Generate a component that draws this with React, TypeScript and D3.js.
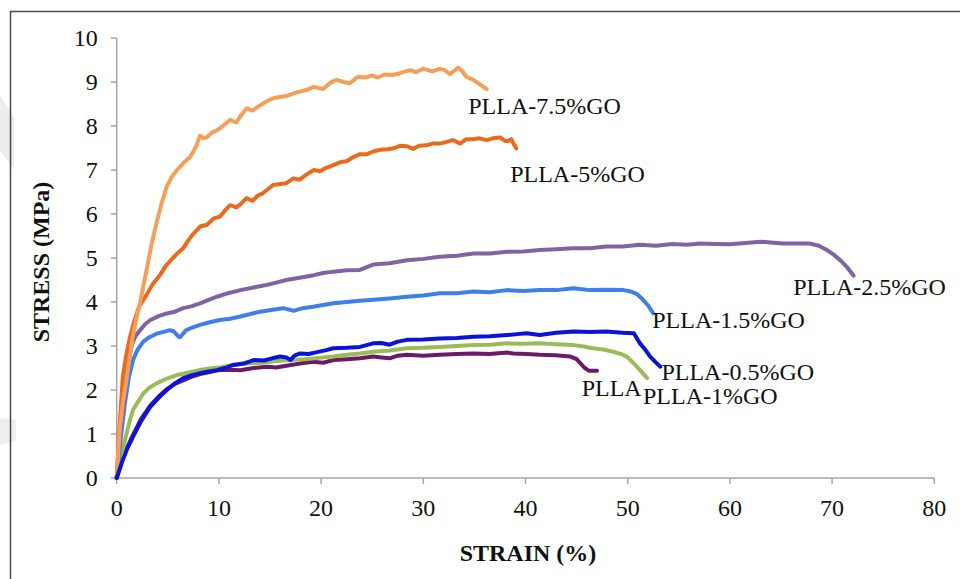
import React from "react";
import * as d3 from "d3";

type P = [number, number];

const xTicks = [0, 10, 20, 30, 40, 50, 60, 70, 80];
const yTicks = [0, 1, 2, 3, 4, 5, 6, 7, 8, 9, 10];

const s75: P[] = [[0,0],[0.3,1.1],[0.6,1.7],[1.0,2.3],[1.3,2.8],[1.6,3.25],[2.0,3.7],[2.3,4.0],[2.9,4.7],[3.4,5.3],[3.9,5.8],[4.4,6.25],[4.9,6.62],[5.4,6.85],[5.9,7.0],[6.5,7.15],[7.2,7.3],[7.5,7.42],[7.8,7.55],[8.15,7.78],[8.5,7.72],[8.8,7.74],[9.3,7.85],[9.8,7.9],[10.5,8.02],[11.1,8.14],[11.7,8.08],[12.2,8.25],[12.7,8.4],[13.3,8.35],[13.9,8.45],[14.6,8.55],[15.3,8.63],[16.0,8.66],[16.6,8.68],[17.3,8.74],[17.9,8.78],[18.6,8.82],[19.3,8.89],[20.2,8.84],[20.9,8.98],[21.5,9.05],[22.2,9.0],[22.8,8.97],[23.6,9.12],[24.3,9.1],[25.0,9.15],[25.5,9.1],[26.2,9.17],[27.0,9.16],[27.7,9.2],[28.7,9.27],[29.3,9.22],[30.0,9.3],[30.9,9.24],[31.6,9.3],[32.1,9.27],[32.6,9.18],[33.0,9.25],[33.4,9.33],[33.8,9.25],[34.2,9.12],[34.9,9.05],[35.5,8.95],[36.2,8.84]];

const s5: P[] = [[0,0],[0.2,0.9],[0.4,1.6],[0.6,2.3],[0.9,2.75],[1.3,3.2],[1.7,3.55],[2.2,3.9],[2.9,4.15],[3.5,4.4],[4.2,4.6],[4.8,4.82],[5.5,5.0],[6.0,5.12],[6.5,5.22],[7.0,5.4],[7.5,5.55],[8.2,5.72],[8.8,5.75],[9.5,5.9],[10.1,5.94],[10.6,6.08],[11.1,6.2],[11.7,6.15],[12.1,6.22],[12.7,6.36],[13.3,6.3],[13.8,6.42],[14.3,6.47],[15.3,6.66],[16.0,6.68],[16.6,6.7],[17.3,6.81],[17.9,6.78],[18.6,6.9],[19.3,7.0],[19.9,6.97],[20.5,7.05],[21.2,7.11],[21.9,7.18],[22.5,7.2],[23.2,7.3],[23.8,7.36],[24.5,7.36],[25.1,7.42],[25.8,7.46],[26.5,7.47],[27.2,7.5],[27.7,7.55],[28.4,7.54],[29.0,7.48],[29.6,7.55],[30.3,7.56],[30.9,7.6],[31.6,7.6],[32.3,7.64],[32.9,7.68],[33.6,7.6],[34.2,7.7],[34.9,7.7],[35.5,7.72],[36.2,7.68],[36.8,7.72],[37.5,7.74],[38.0,7.66],[38.3,7.66],[38.6,7.7],[39.1,7.49]];

const s25: P[] = [[0,0],[0.3,0.9],[0.7,1.8],[1.1,2.6],[1.5,3.05],[1.9,3.25],[2.3,3.36],[2.8,3.5],[3.3,3.59],[4.1,3.68],[4.9,3.74],[5.7,3.78],[6.5,3.86],[7.3,3.9],[8.15,3.97],[9.0,4.05],[9.8,4.12],[10.9,4.2],[12.1,4.27],[13.4,4.33],[14.7,4.39],[15.6,4.44],[16.6,4.5],[17.9,4.55],[19.3,4.61],[20.2,4.66],[21.2,4.69],[22.5,4.72],[23.8,4.73],[25.1,4.85],[26.7,4.88],[28.4,4.95],[30.0,4.98],[31.6,5.03],[33.3,5.05],[34.9,5.1],[36.5,5.1],[38.2,5.14],[39.8,5.15],[41.4,5.18],[43.0,5.2],[44.6,5.22],[46.3,5.22],[47.9,5.26],[49.5,5.26],[51.2,5.3],[52.8,5.28],[54.4,5.32],[55.8,5.3],[57.1,5.33],[58.6,5.32],[60.0,5.31],[61.5,5.34],[63.0,5.37],[64.0,5.35],[65.2,5.33],[66.5,5.33],[67.8,5.33],[68.7,5.28],[69.5,5.18],[70.2,5.07],[70.8,4.95],[71.5,4.78],[72.1,4.6]];

const s15: P[] = [[0,0],[0.4,0.9],[0.8,1.7],[1.2,2.3],[1.6,2.68],[2.0,2.9],[2.6,3.1],[3.2,3.2],[3.9,3.28],[4.6,3.32],[5.2,3.36],[5.6,3.33],[6.0,3.22],[6.2,3.2],[6.5,3.28],[6.8,3.36],[7.4,3.42],[8.15,3.48],[9.1,3.54],[10.1,3.59],[11.1,3.62],[12.1,3.67],[13.0,3.72],[14.0,3.78],[15.1,3.82],[16.3,3.86],[17.3,3.8],[18.2,3.86],[19.2,3.89],[20.2,3.93],[21.2,3.97],[22.5,4.0],[23.8,4.03],[25.1,4.05],[26.7,4.08],[28.4,4.12],[30.0,4.15],[31.6,4.2],[33.3,4.2],[34.9,4.24],[36.5,4.22],[38.2,4.27],[39.8,4.25],[41.4,4.27],[43.0,4.27],[44.7,4.31],[46.3,4.27],[47.9,4.28],[49.6,4.27],[50.3,4.24],[50.9,4.18],[51.5,4.05],[52.0,3.92],[52.5,3.74]];

const s05: P[] = [[0,0],[0.5,0.35],[1.0,0.65],[1.6,0.94],[2.4,1.3],[3.3,1.62],[4.1,1.82],[4.9,2.0],[5.7,2.15],[6.5,2.27],[7.3,2.33],[8.15,2.38],[9.0,2.42],[9.8,2.45],[10.6,2.5],[11.4,2.57],[12.4,2.6],[13.4,2.68],[14.4,2.67],[15.2,2.72],[16.0,2.76],[16.6,2.74],[17.0,2.68],[17.4,2.78],[17.9,2.83],[18.8,2.82],[19.6,2.86],[20.4,2.9],[21.2,2.95],[22.5,2.96],[23.8,2.98],[25.1,3.06],[25.9,3.07],[26.7,3.03],[27.5,3.1],[28.4,3.14],[30.0,3.15],[31.6,3.17],[33.3,3.18],[34.9,3.21],[36.5,3.22],[38.2,3.25],[39.2,3.27],[40.1,3.29],[41.4,3.25],[43.0,3.3],[44.7,3.33],[46.3,3.32],[47.9,3.33],[49.5,3.3],[50.6,3.29],[51.2,3.06],[51.7,2.92],[52.2,2.76],[52.7,2.64],[53.2,2.53]];

const s1: P[] = [[0,0],[0.4,0.45],[0.9,0.95],[1.3,1.32],[1.6,1.55],[2.0,1.7],[2.6,1.92],[3.2,2.05],[3.9,2.15],[4.9,2.26],[5.9,2.34],[6.7,2.38],[7.5,2.42],[8.3,2.46],[9.1,2.49],[10.2,2.52],[11.4,2.57],[12.8,2.6],[14.2,2.62],[15.6,2.66],[17.0,2.68],[18.4,2.7],[19.8,2.73],[21.2,2.76],[22.5,2.8],[23.8,2.83],[25.1,2.87],[26.7,2.9],[28.4,2.95],[30.0,2.96],[31.6,2.98],[33.3,3.0],[34.9,3.02],[36.5,3.03],[38.2,3.06],[39.8,3.05],[41.4,3.06],[43.0,3.04],[44.7,3.02],[45.7,2.99],[46.6,2.95],[47.6,2.92],[48.6,2.87],[49.3,2.82],[49.9,2.76],[50.4,2.65],[50.9,2.53],[51.4,2.4],[51.9,2.27]];

const s0: P[] = [[0,0],[0.5,0.38],[1.0,0.68],[1.6,0.98],[2.4,1.35],[3.3,1.65],[4.1,1.85],[4.9,2.02],[5.7,2.14],[6.5,2.22],[7.3,2.3],[8.15,2.36],[9.0,2.4],[9.8,2.45],[10.9,2.46],[12.1,2.45],[13.4,2.5],[14.7,2.53],[15.6,2.51],[16.6,2.55],[17.9,2.6],[19.2,2.64],[20.2,2.62],[21.2,2.68],[22.5,2.7],[23.8,2.72],[25.1,2.76],[25.9,2.74],[26.7,2.72],[27.5,2.78],[28.4,2.8],[30.0,2.78],[31.6,2.8],[33.3,2.82],[34.9,2.83],[36.5,2.82],[38.2,2.85],[38.8,2.83],[40.1,2.82],[41.4,2.8],[42.9,2.79],[44.4,2.76],[45.0,2.7],[45.4,2.6],[45.8,2.5],[46.2,2.44],[47.0,2.44]];

const seriesNames = ["PLLA", "PLLA-1%GO", "PLLA-1.5%GO", "PLLA-2.5%GO", "PLLA-5%GO", "PLLA-7.5%GO", "PLLA-0.5%GO"];
const seriesData = [s0, s1, s15, s25, s5, s75, s05];
const seriesColors = ["#6a1a66", "#9bbb59", "#3f7fec", "#8064a2", "#ec6a1e", "#f5a05a", "#0a14d8"];
// label anchor (data coords: strain, stress at baseline)
const labelPos: P[] = [[45.5, 1.86], [51.5, 1.68], [52.4, 3.41], [66.2, 4.16], [38.5, 6.72], [34.4, 8.27], [53.3, 2.23]];

export default function App() {
  const W = 960, H = 579;
  const x = d3.scaleLinear().domain([0, 80]).range([116.7, 934.3]);
  const y = d3.scaleLinear().domain([0, 10]).range([478, 38]);
  const line = d3.line<P>().x(d => x(d[0])).y(d => y(d[1]));
  const font = "'Liberation Serif', 'Times New Roman', serif";
  const axisColor = "#a6a6a6";

  return (
    <svg width={W} height={H} style={{ position: "absolute", left: 0, top: 0, background: "#fff" }} fontFamily={font}>
      <rect x={0} y={0} width={W} height={H} fill="#fff" />
      {/* faint watermark shapes on left edge */}
      <polygon points="0,95 14,118 14,170 0,150" fill="#ececec" />
      <polygon points="0,418 16,420 16,440 0,445" fill="#efefef" />
      {/* frame */}
      <path d={`M10.5,${H} V11.5 H${W}`} fill="none" stroke="#4a4a4a" strokeWidth={1.5} />

      {/* y axis */}
      <line x1={x(0)} x2={x(0)} y1={y(10)} y2={y(0)} stroke={axisColor} strokeWidth={1.5} />
      {yTicks.map(t => (
        <g key={"y" + t}>
          <line x1={x(0) - 6} x2={x(0)} y1={y(t)} y2={y(t)} stroke={axisColor} strokeWidth={1.5} />
          <text x={x(0) - 19} y={y(t)} dy="0.35em" textAnchor="end" fontSize={24} fill="#111">{t}</text>
        </g>
      ))}
      {/* x axis */}
      <line x1={x(0)} x2={x(80)} y1={y(0)} y2={y(0)} stroke={axisColor} strokeWidth={1.5} />
      {xTicks.map(t => (
        <g key={"x" + t}>
          <line x1={x(t)} x2={x(t)} y1={y(0)} y2={y(0) + 6} stroke={axisColor} strokeWidth={1.5} />
          <text x={x(t)} y={516} textAnchor="middle" fontSize={24} fill="#111">{t}</text>
        </g>
      ))}

      {/* series */}
      {seriesData.map((d, i) => (
        <path key={seriesNames[i]} d={line(d) || ""} fill="none" stroke={seriesColors[i]} strokeWidth={4} strokeLinejoin="round" strokeLinecap="round" />
      ))}

      {/* labels */}
      {seriesNames.map((n, i) => (
        <text key={"l" + n} x={x(labelPos[i][0])} y={y(labelPos[i][1])} fontSize={24} fill="#111">{n}</text>
      ))}

      {/* axis titles */}
      <text x={528} y={561} textAnchor="middle" fontSize={24} fontWeight="bold" fill="#111">STRAIN (%)</text>
      <text transform={`translate(49,262) rotate(-90)`} textAnchor="middle" fontSize={24} fontWeight="bold" fill="#111">STRESS (MPa)</text>
    </svg>
  );
}
